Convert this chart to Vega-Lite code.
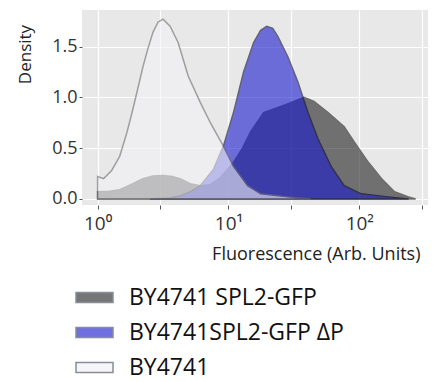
{
  "$schema": "https://vega.github.io/schema/vega-lite/v6.json",
  "width": 346,
  "height": 195,
  "autosize": "none",
  "padding": {"left": 82, "top": 10, "right": 7, "bottom": 177},
  "background": "white",
  "config": {
    "view": {"fill": "#e8e8e8", "stroke": null},
    "font": "Open Sans"
  },
  "datasets": {
    "dens": [
      {"group": "BY4741 SPL2-GFP", "x": 1.0, "y": 0.07},
      {"group": "BY4741 SPL2-GFP", "x": 1.237, "y": 0.075},
      {"group": "BY4741 SPL2-GFP", "x": 1.476, "y": 0.09},
      {"group": "BY4741 SPL2-GFP", "x": 1.858, "y": 0.15},
      {"group": "BY4741 SPL2-GFP", "x": 2.22, "y": 0.2},
      {"group": "BY4741 SPL2-GFP", "x": 2.649, "y": 0.225},
      {"group": "BY4741 SPL2-GFP", "x": 3.162, "y": 0.23},
      {"group": "BY4741 SPL2-GFP", "x": 3.708, "y": 0.22},
      {"group": "BY4741 SPL2-GFP", "x": 4.274, "y": 0.2},
      {"group": "BY4741 SPL2-GFP", "x": 5.104, "y": 0.15},
      {"group": "BY4741 SPL2-GFP", "x": 6.09, "y": 0.13},
      {"group": "BY4741 SPL2-GFP", "x": 7.27, "y": 0.14},
      {"group": "BY4741 SPL2-GFP", "x": 8.68, "y": 0.21},
      {"group": "BY4741 SPL2-GFP", "x": 10.93, "y": 0.36},
      {"group": "BY4741 SPL2-GFP", "x": 12.81, "y": 0.5},
      {"group": "BY4741 SPL2-GFP", "x": 14.76, "y": 0.66},
      {"group": "BY4741 SPL2-GFP", "x": 18.58, "y": 0.85},
      {"group": "BY4741 SPL2-GFP", "x": 25.12, "y": 0.91},
      {"group": "BY4741 SPL2-GFP", "x": 31.62, "y": 0.96},
      {"group": "BY4741 SPL2-GFP", "x": 37.76, "y": 1.0},
      {"group": "BY4741 SPL2-GFP", "x": 45.07, "y": 0.96},
      {"group": "BY4741 SPL2-GFP", "x": 57.73, "y": 0.85},
      {"group": "BY4741 SPL2-GFP", "x": 76.67, "y": 0.71},
      {"group": "BY4741 SPL2-GFP", "x": 91.5, "y": 0.56},
      {"group": "BY4741 SPL2-GFP", "x": 117.3, "y": 0.36},
      {"group": "BY4741 SPL2-GFP", "x": 147.6, "y": 0.2},
      {"group": "BY4741 SPL2-GFP", "x": 185.8, "y": 0.07},
      {"group": "BY4741 SPL2-GFP", "x": 238.2, "y": 0.02},
      {"group": "BY4741 SPL2-GFP", "x": 269.7, "y": 0.0},
      {"group": "BY4741SPL2-GFP ΔP", "x": 2.512, "y": 0.0},
      {"group": "BY4741SPL2-GFP ΔP", "x": 3.58, "y": 0.01},
      {"group": "BY4741SPL2-GFP ΔP", "x": 4.274, "y": 0.03},
      {"group": "BY4741SPL2-GFP ΔP", "x": 5.104, "y": 0.07},
      {"group": "BY4741SPL2-GFP ΔP", "x": 6.09, "y": 0.13},
      {"group": "BY4741SPL2-GFP ΔP", "x": 7.67, "y": 0.29},
      {"group": "BY4741SPL2-GFP ΔP", "x": 9.15, "y": 0.52},
      {"group": "BY4741SPL2-GFP ΔP", "x": 10.93, "y": 0.85},
      {"group": "BY4741SPL2-GFP ΔP", "x": 13.05, "y": 1.25},
      {"group": "BY4741SPL2-GFP ΔP", "x": 15.57, "y": 1.54},
      {"group": "BY4741SPL2-GFP ΔP", "x": 17.63, "y": 1.66},
      {"group": "BY4741SPL2-GFP ΔP", "x": 19.6, "y": 1.7},
      {"group": "BY4741SPL2-GFP ΔP", "x": 21.8, "y": 1.68},
      {"group": "BY4741SPL2-GFP ΔP", "x": 23.83, "y": 1.6},
      {"group": "BY4741SPL2-GFP ΔP", "x": 28.44, "y": 1.4},
      {"group": "BY4741SPL2-GFP ΔP", "x": 33.96, "y": 1.15},
      {"group": "BY4741SPL2-GFP ΔP", "x": 40.53, "y": 0.85},
      {"group": "BY4741SPL2-GFP ΔP", "x": 48.38, "y": 0.59},
      {"group": "BY4741SPL2-GFP ΔP", "x": 60.9, "y": 0.32},
      {"group": "BY4741SPL2-GFP ΔP", "x": 76.67, "y": 0.13},
      {"group": "BY4741SPL2-GFP ΔP", "x": 103.6, "y": 0.05},
      {"group": "BY4741SPL2-GFP ΔP", "x": 167.1, "y": 0.02},
      {"group": "BY4741SPL2-GFP ΔP", "x": 238.2, "y": 0.0},
      {"group": "BY4741", "x": 1.0, "y": 0.22},
      {"group": "BY4741", "x": 1.112, "y": 0.2},
      {"group": "BY4741", "x": 1.281, "y": 0.28},
      {"group": "BY4741", "x": 1.476, "y": 0.42},
      {"group": "BY4741", "x": 1.672, "y": 0.65},
      {"group": "BY4741", "x": 1.858, "y": 0.88},
      {"group": "BY4741", "x": 2.031, "y": 1.09},
      {"group": "BY4741", "x": 2.22, "y": 1.3},
      {"group": "BY4741", "x": 2.424, "y": 1.48},
      {"group": "BY4741", "x": 2.649, "y": 1.64},
      {"group": "BY4741", "x": 2.894, "y": 1.74},
      {"group": "BY4741", "x": 3.162, "y": 1.77},
      {"group": "BY4741", "x": 3.58, "y": 1.7},
      {"group": "BY4741", "x": 4.125, "y": 1.54},
      {"group": "BY4741", "x": 4.924, "y": 1.21},
      {"group": "BY4741", "x": 6.09, "y": 0.95},
      {"group": "BY4741", "x": 7.27, "y": 0.75},
      {"group": "BY4741", "x": 9.15, "y": 0.52},
      {"group": "BY4741", "x": 10.93, "y": 0.32},
      {"group": "BY4741", "x": 14.01, "y": 0.13},
      {"group": "BY4741", "x": 17.63, "y": 0.05},
      {"group": "BY4741", "x": 28.4, "y": 0.02},
      {"group": "BY4741", "x": 42.7, "y": 0.0}
    ]
  },
  "data": {"name": "dens"},
  "encoding": {
    "x": {
      "field": "x", "type": "quantitative",
      "scale": {"type": "log", "domain": [0.76, 335], "nice": false},
      "axis": {
        "title": "Fluorescence (Arb. Units)",
        "values": [1, 3, 10, 30, 100, 300],
        "labelExpr": "datum.value == 1 ? '10⁰' : datum.value == 10 ? '10¹' : datum.value == 100 ? '10²' : ''",
        "domain": false, "tickColor": "#555", "tickSize": 4,
        "labelFontSize": 19, "labelColor": "#333", "labelPadding": 5,
        "gridColor": "white", "gridWidth": 1.2,
        "titleAnchor": "end", "titleFontSize": 18, "titleFontWeight": "normal",
        "titleColor": "#222", "titlePadding": 12, "titleX": 338, "titleAlign": "right"
      }
    },
    "y": {
      "field": "y", "type": "quantitative",
      "scale": {"domain": [-0.06, 1.86], "nice": false, "zero": false},
      "axis": {
        "title": "Density",
        "values": [0, 0.5, 1, 1.5],
        "format": ".1f",
        "domain": false, "tickColor": "#555", "tickSize": 3,
        "labelFontSize": 18, "labelColor": "#333", "labelPadding": 2,
        "gridColor": "white", "gridWidth": 1.2,
        "titleFontSize": 17, "titleFontWeight": "normal",
        "titleColor": "#222", "titleX": -57, "titleY": 44, "titleAlign": "center", "titleBaseline": "middle", "titleAngle": -90
      }
    },
    "color": {
      "field": "group", "type": "nominal",
      "scale": {
        "domain": ["BY4741 SPL2-GFP", "BY4741SPL2-GFP ΔP", "BY4741"],
        "range": ["#222222", "#1a1ad0", "#f2f2f6"]
      },
      "legend": {
        "title": null,
        "orient": "none",
        "legendX": -7,
        "legendY": 268,
        "padding": 0,
        "symbolType": "M-1,-0.27H1V0.27H-1Z",
        "symbolSize": 1369,
        "symbolStrokeColor": "#3c4a5c",
        "symbolStrokeWidth": 1.5,
        "symbolOpacity": 0.62,
        "labelFontSize": 23,
        "labelColor": "#111",
        "labelOffset": 15,
        "rowPadding": 3,
        "labelLimit": 400
      }
    }
  },
  "layer": [
    {
      "transform": [{"filter": "datum.group == 'BY4741 SPL2-GFP'"}],
      "mark": {"type": "area", "opacity": 0.6, "stroke": "#1a1a1a", "strokeWidth": 1.5, "strokeOpacity": 1}
    },
    {
      "transform": [{"filter": "datum.group == 'BY4741SPL2-GFP ΔP'"}],
      "mark": {"type": "area", "opacity": 0.6, "stroke": "#0a0a30", "strokeWidth": 1.5, "strokeOpacity": 1}
    },
    {
      "transform": [{"filter": "datum.group == 'BY4741'"}],
      "mark": {"type": "area", "opacity": 0.6, "stroke": "#6e6e6e", "strokeWidth": 1.5, "strokeOpacity": 1}
    }
  ]
}
